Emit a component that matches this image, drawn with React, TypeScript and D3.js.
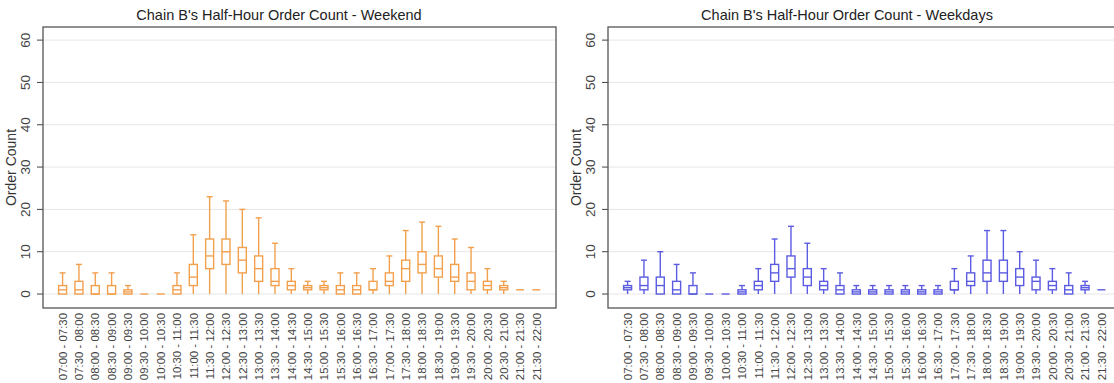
import React, { useEffect, useRef } from 'react';
import * as d3 from 'd3';

// half-hour slots
const slots = [
  '07:00 - 07:30', '07:30 - 08:00', '08:00 - 08:30', '08:30 - 09:00', '09:00 - 09:30',
  '09:30 - 10:00', '10:00 - 10:30', '10:30 - 11:00', '11:00 - 11:30', '11:30 - 12:00',
  '12:00 - 12:30', '12:30 - 13:00', '13:00 - 13:30', '13:30 - 14:00', '14:00 - 14:30',
  '14:30 - 15:00', '15:00 - 15:30', '15:30 - 16:00', '16:00 - 16:30', '16:30 - 17:00',
  '17:00 - 17:30', '17:30 - 18:00', '18:00 - 18:30', '18:30 - 19:00', '19:00 - 19:30',
  '19:30 - 20:00', '20:00 - 20:30', '20:30 - 21:00', '21:00 - 21:30', '21:30 - 22:00',
];

// [min, q1, median, q3, max] per slot
const weekendStats = [
  [0, 0, 1, 2, 5], [0, 0, 1, 3, 7], [0, 0, 0, 2, 5], [0, 0, 0, 2, 5], [0, 0, 0.5, 1, 2],
  [0, 0, 0, 0, 0], [0, 0, 0, 0, 0], [0, 0, 1, 2, 5], [0, 2, 4, 7, 14], [0, 6, 9, 13, 23],
  [0, 7, 10, 13, 22], [0, 5, 8, 11, 20], [0, 3, 6, 9, 18], [0, 2, 3, 6, 12], [0, 1, 2, 3, 6],
  [0, 1, 1.5, 2, 3], [0, 1, 1.5, 2, 3], [0, 0, 1, 2, 5], [0, 0, 1, 2, 5], [0, 1, 1, 3, 6],
  [0, 2, 3, 5, 9], [0, 3, 6, 8, 15], [0, 5, 7, 10, 17], [0, 4, 6, 9, 16], [0, 3, 4, 7, 13],
  [0, 1, 3, 5, 11], [0, 1, 2, 3, 6], [0, 1, 1.5, 2, 3], [1, 1, 1, 1, 1], [1, 1, 1, 1, 1],
];

const weekdayStats = [
  [0, 1, 1.5, 2, 3], [0, 1, 2, 4, 8], [0, 0, 2, 4, 10], [0, 0, 1, 3, 7], [0, 0, 0, 2, 5],
  [0, 0, 0, 0, 0], [0, 0, 0, 0, 0], [0, 0, 0.5, 1, 2], [0, 1, 2, 3, 6], [0, 3, 5, 7, 13],
  [0, 4, 6, 9, 16], [0, 2, 4, 6, 12], [0, 1, 2, 3, 6], [0, 0, 1, 2, 5], [0, 0, 0.5, 1, 2],
  [0, 0, 0.5, 1, 2], [0, 0, 0.5, 1, 2], [0, 0, 0.5, 1, 2], [0, 0, 0.5, 1, 2], [0, 0, 0.5, 1, 2],
  [0, 1, 1, 3, 6], [0, 2, 3, 5, 9], [0, 3, 5, 8, 15], [0, 3, 5, 8, 15], [0, 2, 4, 6, 10],
  [0, 1, 3, 4, 8], [0, 1, 2, 3, 6], [0, 0, 1, 2, 5], [0, 1, 1.5, 2, 3], [1, 1, 1, 1, 1],
];

const yTicks = [0, 10, 20, 30, 40, 50, 60];

const panels = [
  { title: "Chain B's Half-Hour Order Count - Weekend", stats: weekendStats, color: '#f2a04e', left: 43, titleX: 279 },
  { title: "Chain B's Half-Hour Order Count - Weekdays", stats: weekdayStats, color: '#5c5ce2', left: 608, titleX: 847 },
];

const FONT = '"Liberation Sans", Arial, sans-serif';

export default function App() {
  const ref = useRef<SVGSVGElement>(null);

  function draw() {
    const svg = d3.select(ref.current);
    svg.selectAll('*').remove();

    const plotW = 513;
    const top = 27, bottom = 308;

    const y = d3.scaleLinear().domain([-3.3, 63.1]).range([bottom, top]);

    panels.forEach(p => {
      const x = d3.scalePoint<string>().domain(slots).range([p.left, p.left + plotW]).padding(1.2);
      const g = svg.append('g');

      // title
      g.append('text')
        .attr('x', p.titleX).attr('y', 20)
        .attr('text-anchor', 'middle')
        .attr('font-family', FONT).attr('font-size', 14.5)
        .attr('fill', '#222')
        .text(p.title);

      // grid
      g.append('g').selectAll('line').data(yTicks).enter().append('line')
        .attr('x1', p.left).attr('x2', p.left + plotW)
        .attr('y1', d => y(d)).attr('y2', d => y(d))
        .attr('stroke', '#e6e6e6').attr('stroke-width', 1);

      // y ticks + labels
      const yt = g.append('g').selectAll('g').data(yTicks).enter().append('g')
        .attr('transform', d => `translate(${p.left},${y(d)})`);
      yt.append('line').attr('x1', -6).attr('x2', 0).attr('stroke', '#444');
      yt.append('text')
        .attr('transform', 'translate(-13,0) rotate(-90)')
        .attr('text-anchor', 'middle')
        .attr('font-family', FONT).attr('font-size', 13.5)
        .attr('fill', '#444')
        .text(d => d);

      g.append('text')
        .attr('transform', `translate(${p.left - 27},${(top + bottom) / 2}) rotate(-90)`)
        .attr('text-anchor', 'middle')
        .attr('font-family', FONT).attr('font-size', 14)
        .attr('fill', '#333')
        .text('Order Count');

      // boxes
      const bw = 8, cap = 6;
      const bx = g.append('g').selectAll('g').data(p.stats).enter().append('g')
        .attr('transform', (d, i) => `translate(${x(slots[i])},0)`)
        .attr('stroke', p.color).attr('stroke-width', 1.4).attr('fill', 'none');
      bx.append('line').attr('y1', d => y(d[0])).attr('y2', d => y(d[1]));
      bx.append('line').attr('y1', d => y(d[3])).attr('y2', d => y(d[4]));
      bx.append('line').attr('x1', -cap / 2).attr('x2', cap / 2)
        .attr('y1', d => y(d[4])).attr('y2', d => y(d[4]))
        .attr('display', d => d[4] === d[0] ? 'none' : null);
      bx.append('rect')
        .attr('x', -bw / 2).attr('width', bw)
        .attr('y', d => y(d[3])).attr('height', d => y(d[1]) - y(d[3]))
        .attr('display', d => d[3] === d[1] ? 'none' : null);
      bx.append('line').attr('x1', -bw / 2).attr('x2', bw / 2)
        .attr('y1', d => y(d[2])).attr('y2', d => y(d[2]));

      // x labels
      g.append('g').selectAll('text').data(slots).enter().append('text')
        .attr('transform', d => `translate(${(x(d) as number) + 4.2},${bottom + 5}) rotate(-90)`)
        .attr('text-anchor', 'end')
        .attr('font-family', FONT).attr('font-size', 11.4)
        .attr('fill', '#444')
        .text(d => d);

      // frame
      g.append('rect')
        .attr('x', p.left).attr('y', top)
        .attr('width', plotW).attr('height', bottom - top)
        .attr('fill', 'none').attr('stroke', '#555').attr('stroke-width', 1.3);
    });
  }

  useEffect(() => {
    draw();
  }, []);

  return (
    <div style={{ position: 'absolute', left: 0, top: 0 }}>
      <svg ref={ref} width={1114} height={383} style={{ display: 'block', background: '#fff' }} />
    </div>
  );
}
